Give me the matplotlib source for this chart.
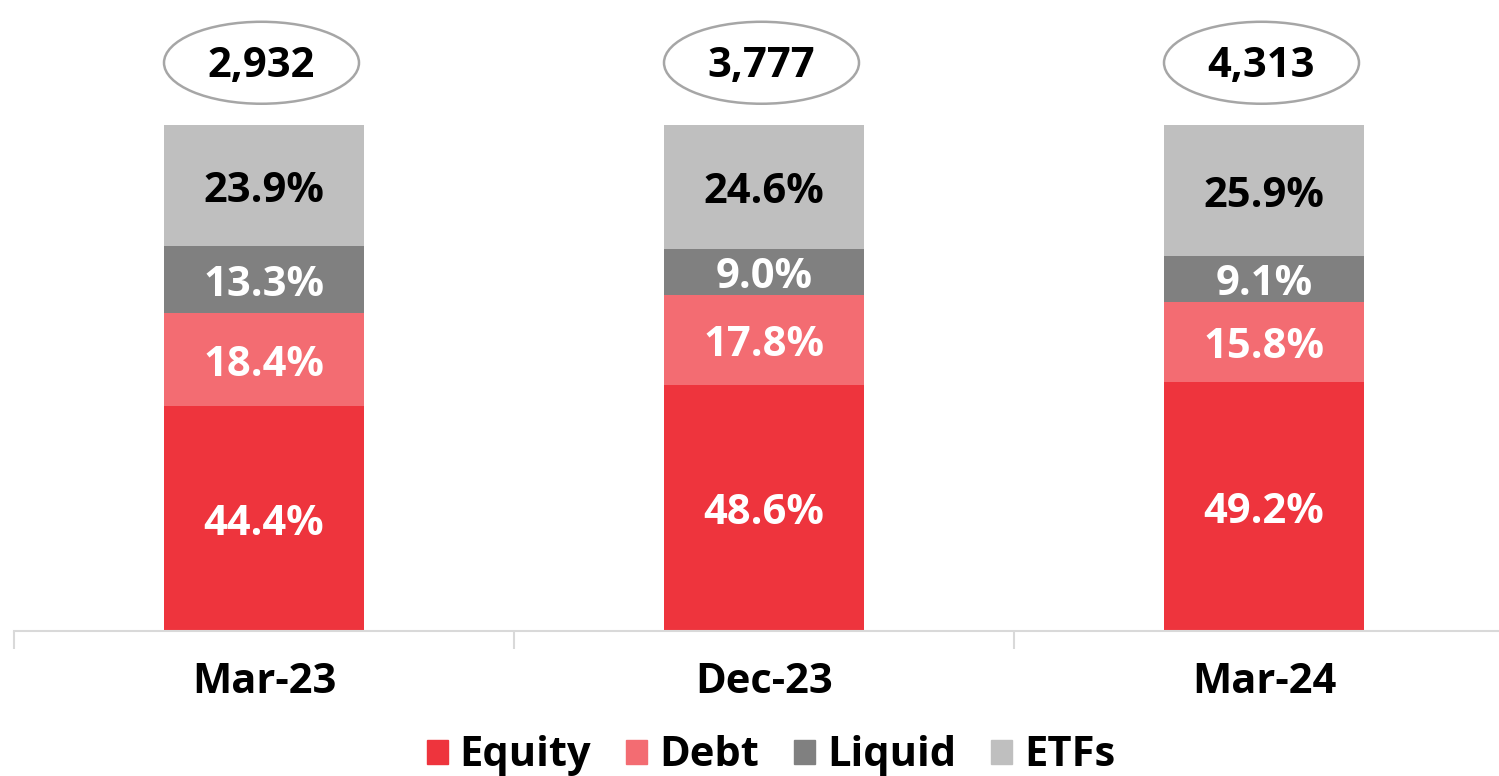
import matplotlib.pyplot as plt
from matplotlib.patches import Ellipse, Patch

plt.rcParams['font.family'] = ['Open Sans', 'DejaVu Sans']

periods = ['Mar-23', 'Dec-23', 'Mar-24']
equity = [44.4, 48.6, 49.2]
debt = [18.4, 17.8, 15.8]
liquid = [13.3, 9.0, 9.1]
etfs = [23.9, 24.6, 25.9]
totals = [2932, 3777, 4313]

series = [('Equity', equity, '#EE343D', 'white'),
          ('Debt', debt, '#F36C72', 'white'),
          ('Liquid', liquid, '#808080', 'white'),
          ('ETFs', etfs, '#BFBFBF', 'black')]

W, H = 1499, 776
fig = plt.figure(figsize=(W / 100, H / 100), dpi=100)
ax = fig.add_axes([14 / W, (H - 631) / H, 1500 / W, 506 / H])

x = list(range(len(periods)))
bottom = [0] * len(periods)
for name, vals, col, tcol in series:
    ax.bar(x, vals, width=0.4, bottom=bottom, color=col, label=name)
    for i, v in enumerate(vals):
        ax.annotate(f'{v:.1f}%', (i, bottom[i] + v / 2), xytext=(0, -4),
                    textcoords='offset points', ha='center', va='center',
                    color=tcol, fontsize=30, fontweight='bold')
    bottom = [b + v for b, v in zip(bottom, vals)]

# totals in ellipses above the bars
for i, t in enumerate(totals):
    e = Ellipse((i - 0.005, 112.3), 0.39, 16.2, facecolor='white',
                edgecolor='#A6A6A6', linewidth=1.8, clip_on=False)
    ax.add_patch(e)
    ax.annotate(f'{t:,}', (i - 0.005, 112.3), xytext=(0, -3),
                textcoords='offset points', ha='center', va='center',
                fontsize=30, fontweight='bold', color='black',
                annotation_clip=False)

ax.set_xlim(-0.5, 2.5)
ax.set_ylim(0, 100)
ax.set_yticks([])
for s in ['top', 'right', 'left']:
    ax.spines[s].set_visible(False)
ax.spines['bottom'].set_color('#D9D9D9')
ax.spines['bottom'].set_linewidth(1.5)
ax.set_xticks([-0.5, 0.5, 1.5, 2.5])
ax.set_xticklabels([])
ax.tick_params(axis='x', length=13, width=1.5, color='#D9D9D9')
ax.set_xticks(x, minor=True)
ax.set_xticklabels(periods, minor=True, fontsize=30, fontweight='bold')
ax.tick_params(axis='x', which='minor', length=0, pad=22)

handles = [Patch(color=c, label=n) for n, _, c, _ in series]
fig.legend(handles=handles, loc='center', bbox_to_anchor=(771 / W, 1 - 756 / H),
           ncol=4, frameon=False, prop={'weight': 'bold', 'size': 30},
           handlelength=0.5, handleheight=0.5, handletextpad=0.28,
           columnspacing=0.85)

fig.savefig('out.png', dpi=100)
